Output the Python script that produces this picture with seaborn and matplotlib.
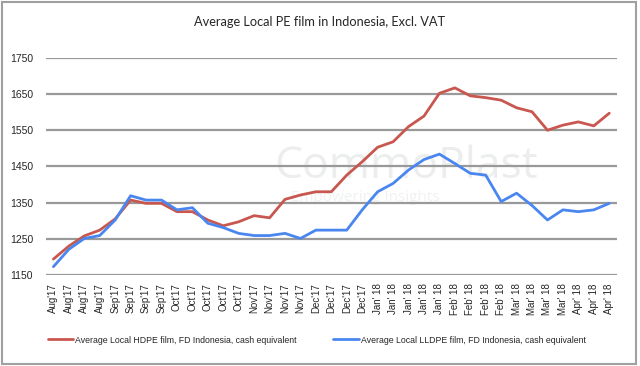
import matplotlib
matplotlib.use("Agg")
import matplotlib.pyplot as plt
from matplotlib.patches import Rectangle
from matplotlib.lines import Line2D
import seaborn as sns
import pandas as pd
import numpy as np

months = (["Aug'17"] * 4 + ["Sep'17"] * 4 + ["Oct'17"] * 5 + ["Nov'17"] * 4 +
          ["Dec'17"] * 4 + ["Jan' 18"] * 5 + ["Feb' 18"] * 4 + ["Mar' 18"] * 4 +
          ["Apr' 18"] * 3)

hdpe = [1194, 1230, 1258, 1274, 1305, 1357, 1348, 1348, 1325, 1325,
        1302, 1286, 1297, 1314, 1308, 1359, 1371, 1380, 1380, 1426,
        1463, 1503, 1518, 1560, 1589, 1652, 1667, 1645, 1640, 1633,
        1612, 1601, 1550, 1564, 1573, 1562, 1597]

lldpe = [1173, 1221, 1251, 1259, 1302, 1369, 1357, 1357, 1330, 1336,
         1293, 1281, 1265, 1259, 1259, 1265, 1251, 1274, 1274, 1274,
         1330, 1380, 1403, 1440, 1469, 1484, 1458, 1431, 1426, 1353,
         1376, 1342, 1302, 1330, 1325, 1330, 1348]

series_names = ["Average Local HDPE film, FD Indonesia, cash equivalent",
                "Average Local LLDPE film, FD Indonesia, cash equivalent"]
colors = ["#C8574F", "#4A86F0"]
title = "Average Local PE film in Indonesia, Excl. VAT"
yticks = [1150, 1250, 1350, 1450, 1550, 1650, 1750]

idx = np.arange(len(months))
df = pd.concat([
    pd.DataFrame({"pos": idx, "value": hdpe, "series": series_names[0]}),
    pd.DataFrame({"pos": idx, "value": lldpe, "series": series_names[1]}),
])

sns.set_style("white")
plt.rcParams["font.family"] = ["Liberation Sans", "DejaVu Sans"]

fig = plt.figure(figsize=(6.4, 3.66), dpi=100)
ax = fig.add_axes([0.0714, 0.2486, 0.8926, 0.5934])

sns.lineplot(data=df, x="pos", y="value", hue="series", palette=colors,
             linewidth=2, ax=ax, legend=False, sort=False)

ax.set_xlim(-0.5, len(months) - 0.5)
ax.set_ylim(1150, 1750)
ax.set_yticks(yticks)
ax.set_yticklabels([str(t) for t in yticks], fontsize=7.5)
ax.set_xticks(idx)
ax.set_xticklabels(months, rotation=90, fontsize=7)
ax.tick_params(axis="x", length=0, pad=6)
ax.tick_params(axis="y", length=0, pad=9)
ax.grid(axis="y", color="#999999", linewidth=1.6)
ax.set_axisbelow(True)
for s in ax.spines.values():
    s.set_visible(False)
ax.set_xlabel("")
ax.set_ylabel("")

# faint watermark
ax.text(0.63, 0.50, "CommoPlast", transform=ax.transAxes, fontsize=32,
        color="#eceeee", ha="center", va="center", zorder=0,
        family=["Open Sans", "DejaVu Sans"])
ax.text(0.56, 0.355, "Empowering Insights", transform=ax.transAxes, fontsize=11,
        color="#f0f2f2", ha="center", va="center", zorder=0,
        family=["Open Sans", "DejaVu Sans"])

fig.text(0.5, 0.94, title, ha="center", va="center", fontsize=9.2,
         family=["Lato", "DejaVu Sans"])

handles = [Line2D([], [], color=c, linewidth=2) for c in colors]
fig.legend(handles, series_names, loc="center", bbox_to_anchor=(0.495, 0.071),
           ncol=2, frameon=False, handlelength=2.9,
           handletextpad=0.25, columnspacing=4.2,
           prop={"family": ["Liberation Sans", "DejaVu Sans"], "size": 6.3})

fig.patches.append(Rectangle((0.003, 0.005), 0.991, 0.99, transform=fig.transFigure,
                             fill=False, edgecolor="#a0a0a0", linewidth=1.5))

fig.savefig("out.png", dpi=100)
